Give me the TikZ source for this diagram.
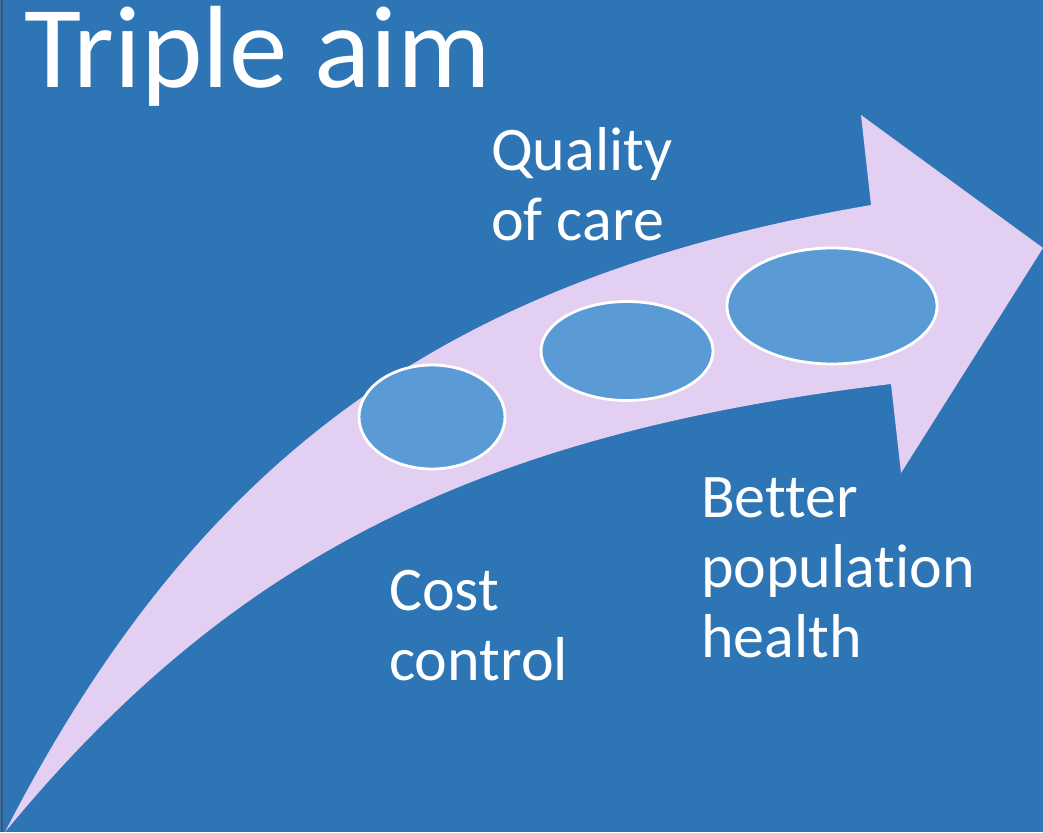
\documentclass[tikz,border=0pt]{standalone}
\usepackage{fontspec}
\setmainfont{Carlito}[Ligatures=NoCommon]
\usetikzlibrary{shapes.geometric}
\definecolor{fond}{RGB}{46,117,182}
\definecolor{fleche}{RGB}{227,207,242}
\definecolor{bulle}{RGB}{91,155,213}
\definecolor{bord}{RGB}{70,85,100}
\tikzset{
  bulle/.style={ellipse,draw=white,line width=2.8pt,fill=bulle,inner sep=0pt},
  etiquette/.style={text=white,anchor=base west,align=left,inner sep=0pt,
    font=\fontsize{62}{70}\selectfont},
}
\begin{document}
\begin{tikzpicture}[x=1pt,y=-1pt]

\fill[fond] (0,0) rectangle (1043,832);
\useasboundingbox (0,0) rectangle (1043,832);
\draw[bord,line width=1.5pt] (2,0)--(2,832);

% la fleche
\fill[fleche] (5,832) .. controls (203,447) and (457,276) .. (871,205)
  -- (861,115) -- (1043,248) -- (901,473) -- (891,384)
  .. controls (475,434) and (229,560) .. (5,832) -- cycle;

\node[bulle,minimum width=146pt,minimum height=104pt] (cout) at (432,417) {};
\node[bulle,minimum width=172pt,minimum height=99pt] (qualite) at (627,351) {};
\node[bulle,minimum width=210pt,minimum height=116pt] (sante) at (832,306) {};

\node[text=white,anchor=base west,inner sep=0pt,font=\fontsize{117}{138}\selectfont] (titre) at (24,88) {Triple aim};
\node[etiquette] (lqualite) at (491,240) {Quality\\of care};
\node[etiquette] (lcout) at (389,680) {Cost\\control};
\node[etiquette] (lsante) at (701,657) {Better\\population\\health};

\end{tikzpicture}
\end{document}
